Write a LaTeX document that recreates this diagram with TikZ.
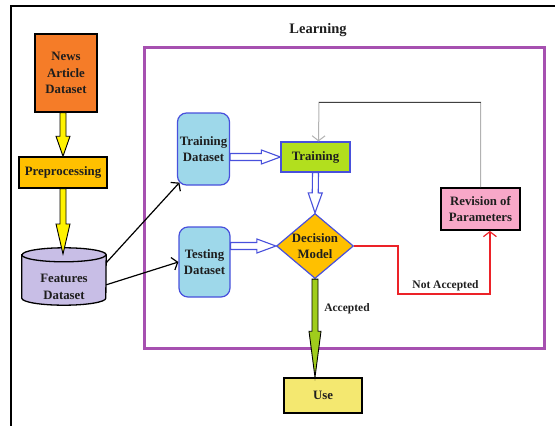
\documentclass[tikz,border=0pt]{standalone}
\usepackage{fontspec}
\setmainfont{Liberation Serif}
\usetikzlibrary{shapes.geometric,arrows.meta,calc}
\definecolor{cOrange}{RGB}{245,124,40}
\definecolor{cGold}{RGB}{255,192,0}
\definecolor{cLav}{RGB}{200,190,230}
\definecolor{cLBlue}{RGB}{158,216,234}
\definecolor{cBlue}{RGB}{72,80,220}
\definecolor{cGreen}{RGB}{178,223,30}
\definecolor{cPink}{RGB}{248,168,200}
\definecolor{cUse}{RGB}{244,232,112}
\definecolor{cPurple}{RGB}{166,80,176}
\definecolor{cArrowG}{RGB}{160,205,28}
\definecolor{cRed}{RGB}{236,34,40}
\definecolor{cTxt}{RGB}{30,30,30}
\newcommand\blockarrow[6]{%
  \path[#1] let \p1=#2, \p2=#3, \n1={veclen(\x2-\x1,\y2-\y1)}, \n2={atan2(\y2-\y1,\x2-\x1)} in
   ($(\p1)+(\n2+90:#4)$) -- ($(\p1)+(\n2:\n1-#6)+(\n2+90:#4)$) -- ($(\p1)+(\n2:\n1-#6)+(\n2+90:#5)$) -- (\p2)
   -- ($(\p1)+(\n2:\n1-#6)+(\n2-90:#5)$) -- ($(\p1)+(\n2:\n1-#6)+(\n2-90:#4)$) -- ($(\p1)+(\n2-90:#4)$) -- cycle;}
\tikzset{
  txt/.style={font=\bfseries\fontsize{12.8}{16.5}\selectfont, text=cTxt, align=center, inner sep=0pt},
  smalltxt/.style={font=\bfseries\fontsize{11.5}{14}\selectfont, text=cTxt, align=center, inner sep=0pt},
  blackbox/.style={txt, draw=black, line width=1.5pt},
  dsbox/.style={txt, draw=cBlue, line width=1.2pt, fill=cLBlue, rounded corners=9pt},
  yarrow/.style={draw=black, line width=0.9pt, fill=yellow},
  barrow/.style={draw=cBlue, line width=1.1pt, fill=white},
  garrow/.style={draw=black, line width=0.9pt, fill=cArrowG},
  blkarrow/.style={draw=black, line width=1.2pt, -{Straight Barb[length=5pt,width=13pt]}},
}
\begin{document}
\begin{tikzpicture}[x=1pt,y=1pt]
\useasboundingbox (0,0) rectangle (555,-426);
% outer frame
\draw[line width=1.5pt] (11,-426) -- (11,-6) -- (555,-6);
% learning frame
\node[draw=cPurple, line width=3pt, minimum width=400pt, minimum height=301pt] (frame) at (344,-197.5) {};
\node[txt, font=\bfseries\fontsize{14.5}{16}\selectfont] (learn) at (318,-30) {Learning};
% left column
\node[blackbox, fill=cOrange, minimum width=62pt, minimum height=78pt] (news) at (66,-73) {News\\Article\\Dataset};
\node[blackbox, fill=cGold, minimum width=88pt, minimum height=31pt] (prep) at (63,-172.5) {Preprocessing};
% cylinder
\node[minimum width=84pt, minimum height=57pt, inner sep=0pt] (cyl) at (64,-276.5) {};
\draw[line width=1.3pt, fill=cLav] ($(cyl.north west)+(0,-7)$) -- ($(cyl.south west)+(0,7)$)
   arc[start angle=180, end angle=360, x radius=42pt, y radius=7pt]
   -- ($(cyl.north east)+(0,-7)$) arc[start angle=0, end angle=180, x radius=42pt, y radius=7pt] -- cycle;
\draw[line width=1.3pt] ($(cyl.north west)+(0,-7)$) arc[start angle=180, end angle=360, x radius=42pt, y radius=7pt];
\node[txt] (feat) at (64,-287) {Features\\Dataset};
\coordinate (feattop) at (64,-254);
% learning nodes
\node[dsbox, minimum width=52pt, minimum height=72pt] (trds) at (203.5,-149) {Training\\Dataset};
\node[dsbox, minimum width=51pt, minimum height=70pt] (teds) at (204.5,-262) {Testing\\Dataset};
\node[txt, draw=cBlue, line width=1.2pt, fill=cGreen, minimum width=69pt, minimum height=30pt] (train) at (315.5,-157) {Training};
\node[txt, diamond, aspect=1.2, draw=cBlue, line width=1.2pt, fill=cGold, minimum width=77pt, minimum height=65pt] (dm) at (315,-246) {Decision\\Model};
\node[blackbox, line width=1.8pt, fill=cPink, minimum width=79pt, minimum height=42pt] (rev) at (480.5,-209) {Revision of\\Parameters};
\node[blackbox, fill=cUse, minimum width=78pt, minimum height=35pt] (use) at (323,-395.5) {Use};
% yellow arrows
\blockarrow{yarrow}{(news.south -| prep.north)}{(prep.north)}{3}{7}{20}
\blockarrow{yarrow}{(prep.south)}{(prep.south |- feattop)}{3}{7}{30}
% black arrows
\draw[blkarrow] ($(cyl.north east)+(0,-15)$) -- ($(trds.south west)+(2.5,3)$);
\draw[blkarrow] ($(cyl.north east)+(0,-37)$) -- (teds.west);
% blue hollow arrows
\blockarrow{barrow}{(trds.east |- train.west)}{(train.west)}{3.5}{7}{19}
\blockarrow{barrow}{(train.south)}{(dm.north)}{3}{7}{20}
\blockarrow{barrow}{(teds.east |- dm.west)}{(dm.west)}{3.5}{7}{19}
% green arrow
\blockarrow{garrow}{(dm.south)}{(dm.south |- use.north)}{3}{6}{46}
\node[smalltxt] (acc) at (347,-309) {Accepted};
% red not-accepted line
\coordinate (rc) at (398,-294);
\draw[cRed, line width=1.2pt, -{Straight Barb[length=5pt,width=13pt]}] (dm.east) -| (rc) -| ($(rev.south east)+(-31,0)$);
\node[smalltxt] (nacc) at (445.5,-286) {Not Accepted};
% feedback line
\coordinate (fbk) at (319,-102);
\draw[gray!60, line width=1pt, -{Straight Barb[length=5pt,width=13pt]}] (rev.north) |- (fbk) -- ($(train.north)+(3,0)$);
\draw[black!75, line width=0.8pt] (rev.north |- fbk) -- (fbk);
\end{tikzpicture}
\end{document}
